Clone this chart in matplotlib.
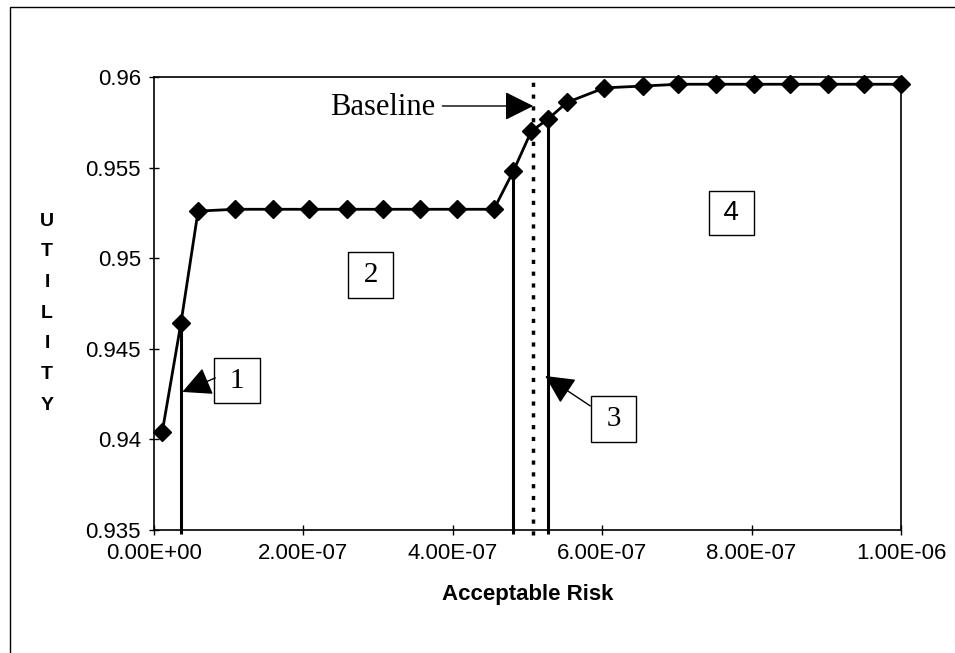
import matplotlib
matplotlib.use("Agg")
import matplotlib.pyplot as plt
from matplotlib.patches import Rectangle

# acceptable risk vs utility
risk = [1.1e-8, 3.6e-8, 5.9e-8, 1.09e-7, 1.59e-7, 2.08e-7, 2.58e-7, 3.06e-7,
        3.56e-7, 4.06e-7, 4.55e-7, 4.81e-7, 5.05e-7, 5.28e-7, 5.53e-7, 6.03e-7,
        6.54e-7, 7.02e-7, 7.53e-7, 8.03e-7, 8.51e-7, 9.02e-7, 9.5e-7, 1.0e-6]
utility = [0.9404, 0.9464, 0.9526, 0.9527, 0.9527, 0.9527, 0.9527, 0.9527,
           0.9527, 0.9527, 0.9527, 0.9548, 0.9570, 0.9577, 0.9586, 0.9594,
           0.9595, 0.9596, 0.9596, 0.9596, 0.9596, 0.9596, 0.9596, 0.9596]

# region boundaries (solid) and the baseline (dotted)
bounds_idx = [1, 11, 13]
baseline = 5.077e-7

xticks = [0, 2e-7, 4e-7, 6e-7, 8e-7, 1e-6]
xticklabels = ['0.00E+00', '2.00E-07', '4.00E-07', '6.00E-07', '8.00E-07', '1.00E-06']
yticks = [0.935, 0.94, 0.945, 0.95, 0.955, 0.96]
yticklabels = ['0.935', '0.94', '0.945', '0.95', '0.955', '0.96']

plt.rcParams['font.family'] = ['Liberation Sans', 'DejaVu Sans']
serif = ['Liberation Serif', 'DejaVu Serif']

fig = plt.figure(figsize=(9.55, 6.53), dpi=100)
ax = fig.add_axes([154/955, 1-530/653, (901-154)/955, (530-77)/653])

# vertical region lines
for i in bounds_idx:
    ax.vlines(risk[i], 0.9348, utility[i], color='black', lw=2.2, clip_on=False, zorder=2)
ax.vlines(baseline, 0.9347, 0.96, color='black', lw=2.5,
          linestyles=(0, (1.2, 2.2)), clip_on=False, zorder=2)

ax.plot(risk, utility, color='black', lw=2, marker='D', markersize=9,
        markerfacecolor='black', markeredgecolor='black', clip_on=False, zorder=3)

ax.set_xlim(0, 1e-6)
ax.set_ylim(0.935, 0.96)
ax.set_xticks(xticks, xticklabels)
ax.set_yticks(yticks, yticklabels)
ax.tick_params(direction='inout', length=7, width=1, labelsize=16, pad=6)
for s in ax.spines.values():
    s.set_linewidth(1.2)

ax.set_xlabel('Acceptable Risk', fontsize=16, fontweight='bold', labelpad=14)

# stacked y label
for k, ch in enumerate('UTILITY'):
    fig.text(47/955, 1-(221 + 30.7*k)/653, ch, fontsize=14, fontweight='bold',
             ha='center', va='center')

# region boxes
box = dict(boxstyle='square,pad=0.33', fc='white', ec='black', lw=1)
ts = '\u2009'
ax.text(2.9e-7, 0.94907, ts + '2' + ts, family=serif, fontsize=21,
        ha='center', va='center', bbox=box)
ax.text(7.73e-7, 0.95249, ts + '4' + ts, fontsize=20, ha='center', va='center', bbox=box)
ax.text(1.11e-7, 0.94325, ts + '1' + ts, family=serif, fontsize=21,
        ha='center', va='center', bbox=box)
ax.text(6.154e-7, 0.94113, ts + '3' + ts, family=serif, fontsize=21,
        ha='center', va='center', bbox=box)

arrow = dict(arrowstyle='-|>,head_length=1.8,head_width=0.9', color='black', lw=1,
             shrinkA=0, shrinkB=0)
ax.annotate('', xy=(0.38e-7, 0.94262), xytext=(0.82e-7, 0.94339), arrowprops=arrow)
ax.annotate('', xy=(5.237e-7, 0.9435), xytext=(5.84e-7, 0.94185), arrowprops=arrow)

ax.text(3.06e-7, 0.95829, 'Baseline', family=serif, fontsize=22,
        ha='center', va='center')
ax.annotate('', xy=(baseline, 0.9584), xytext=(3.86e-7, 0.9584), arrowprops=arrow)

# outer chart border
fig.patches.append(Rectangle((9.5/955, -0.1), 1.2, 1 - 7/653 + 0.1,
                             transform=fig.transFigure, fill=False,
                             ec='black', lw=1))

fig.savefig('out.png', dpi=100)
